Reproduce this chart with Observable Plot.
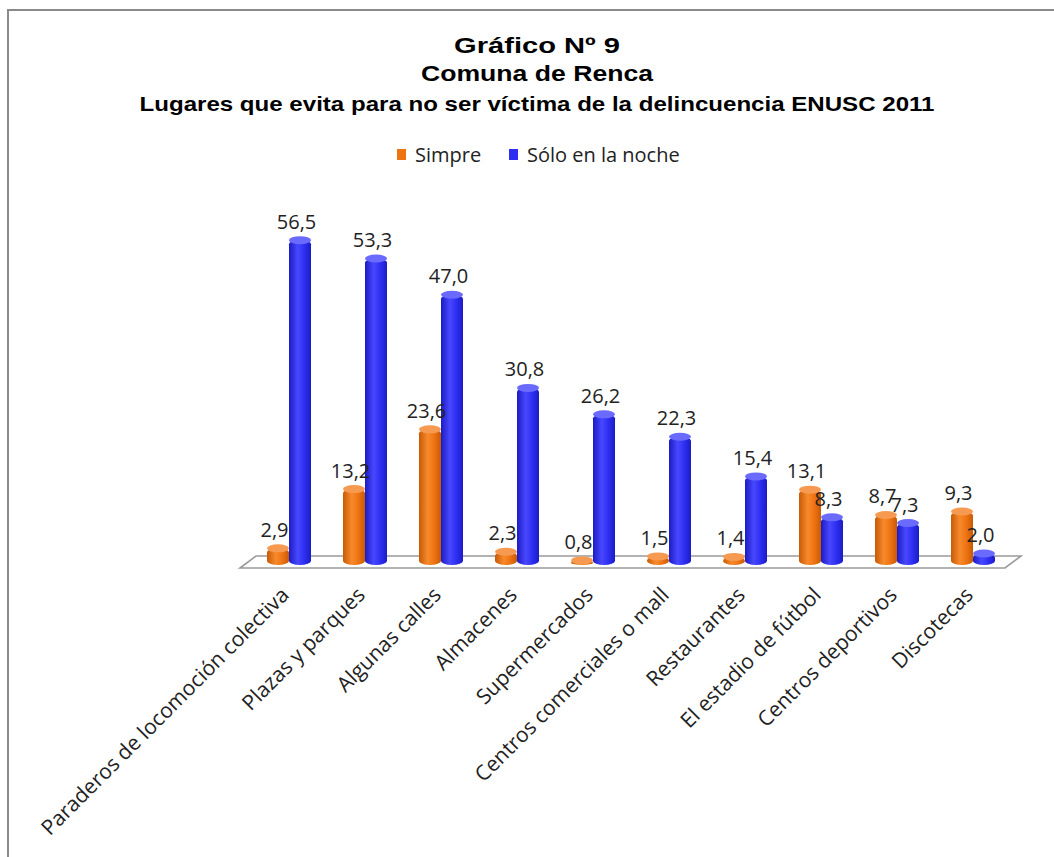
<!DOCTYPE html>
<html>
<head>
<meta charset="utf-8">
<script src="https://cdn.jsdelivr.net/npm/d3@7"></script>
<script src="https://cdn.jsdelivr.net/npm/@observablehq/plot@0.6"></script>
<style>
  html, body { margin: 0; padding: 0; background: #fff; }
  #page { position: relative; width: 1054px; height: 857px; overflow: hidden; background: #fff; }
  #frame { position: absolute; left: 7px; top: 9px; width: 1100px; height: 900px; border-left: 2px solid #8a8a8a; border-top: 2px solid #8a8a8a; box-sizing: border-box; }
  .t { position: absolute; left: 537px; font-family: "Liberation Sans", Arial, sans-serif; font-weight: bold; color: #000; white-space: nowrap; line-height: 1; }
  #legend { position: absolute; top: 141px; left: 0; width: 1054px; font-family: "Open Sans", sans-serif; font-size: 20px; color: #222; }
  .li { position: absolute; top: 0; display: flex; align-items: center; }
  .sw { display: inline-block; width: 9px; height: 11px; margin-right: 9px; }
  #chart { position: absolute; left: 0; top: 180px; }
</style>
</head>
<body>
<div id="page">
  <div id="frame"></div>
  <div class="t" id="t1" data-w="166" style="top:35px;font-size:22px;">Gráfico Nº 9</div>
  <div class="t" id="t2" data-w="232" style="top:63px;font-size:22px;">Comuna de Renca</div>
  <div class="t" id="t3" data-w="795" style="top:93px;font-size:21px;">Lugares que evita para no ser víctima de la delincuencia ENUSC 2011</div>
  <div id="legend"></div>
  <div id="chart"></div>
</div>
<script>
const categories = [
  "Paraderos de locomoción colectiva",
  "Plazas y parques",
  "Algunas calles",
  "Almacenes",
  "Supermercados",
  "Centros comerciales o mall",
  "Restaurantes",
  "El estadio de fútbol",
  "Centros deportivos",
  "Discotecas"
];
const seriesNames = ["Simpre", "Sólo en la noche"];
const simpre = [2.9, 13.2, 23.6, 2.3, 0.8, 1.5, 1.4, 13.1, 8.7, 9.3];
const soloNoche = [56.5, 53.3, 47.0, 30.8, 26.2, 22.3, 15.4, 8.3, 7.3, 2.0];
const seriesColors = ["#ED7410", "#2E2EF2"];

const dataO = categories.map((c, i) => ({cat: c, value: simpre[i]}));
const dataB = categories.map((c, i) => ({cat: c, value: soloNoche[i]}));
const fmt = v => v.toFixed(1).replace(".", ",");

// stretch title lines to the reference's widths
document.querySelectorAll(".t").forEach(el => {
  const w = el.getBoundingClientRect().width;
  const target = +el.dataset.w;
  el.style.transformOrigin = "0 0";
  el.style.transform = `translateX(${-target / 2}px) scaleX(${target / w})`;
});

// legend
const legend = document.getElementById("legend");
const legPos = [397, 509];
seriesNames.forEach((s, i) => {
  const d = document.createElement("div");
  d.className = "li";
  d.style.left = legPos[i] + "px";
  d.innerHTML = `<span class="sw" style="background:${seriesColors[i]}"></span><span>${s}</span>`;
  legend.appendChild(d);
});

const W = 1054, H = 677;

// floor drawn from the scales
function floor(index, scales, values, dims) {
  const [x0, x1] = scales.x.range();
  const y0 = scales.y(0);
  const g = d3.create("svg:g");
  const pts = [
    [x0 - 9, y0 + 3], [x1 - 7, y0 + 3],
    [x1 + 9, y0 - 9], [x0 + 7, y0 - 9]
  ];
  g.append("polygon")
    .attr("points", pts.map(p => p.join(",")).join(" "))
    .attr("fill", "#fff")
    .attr("stroke", "#9a9a9a")
    .attr("stroke-width", 1.6);
  return g.node();
}

const chart = Plot.plot({
  width: W,
  height: H,
  marginLeft: 249,
  marginRight: 42,
  marginTop: 40,
  marginBottom: 292,
  style: {background: "transparent", overflow: "visible"},
  x: {domain: categories, padding: 0, label: null},
  y: {domain: [0, 60], axis: null},
  marks: [
    floor,
    Plot.barY(dataO, {x: "cat", y: "value", fill: "url(#gradO)", dx: -11, insetLeft: 27, insetRight: 27, rx: 11, ry: 4}),
    Plot.barY(dataO, {x: "cat", y1: "value", y2: "value", fill: "#F59A50", dx: -11, insetLeft: 27, insetRight: 27, insetTop: -4, insetBottom: -4, rx: 11, ry: 4}),
    Plot.barY(dataB, {x: "cat", y: "value", fill: "url(#gradB)", dx: 11, insetLeft: 27, insetRight: 27, rx: 11, ry: 4}),
    Plot.barY(dataB, {x: "cat", y1: "value", y2: "value", fill: "#6A6AFF", dx: 11, insetLeft: 27, insetRight: 27, insetTop: -4, insetBottom: -4, rx: 11, ry: 4}),
    Plot.text(dataO, {x: "cat", y: "value", text: d => fmt(d.value), dx: -15, dy: -12, lineAnchor: "bottom", fontSize: 20, fill: "#222"}),
    Plot.text(dataB, {x: "cat", y: "value", text: d => fmt(d.value), dx: 7, dy: -12, lineAnchor: "bottom", fontSize: 20, fill: "#222"}),
    Plot.axisX({tickSize: 0, tickPadding: 26, tickRotate: -45, fontSize: 21, label: null, fill: "#222", dx: -4})
  ]
});
chart.style.fontFamily = "'Open Sans', sans-serif";

// gradients for cylinder shading
const svg = d3.select(chart);
const defs = svg.insert("defs", ":first-child");
function grad(id, dark, mid, light) {
  const g = defs.append("linearGradient").attr("id", id).attr("x1", "0").attr("x2", "1").attr("y1", "0").attr("y2", "0");
  g.append("stop").attr("offset", "0%").attr("stop-color", dark);
  g.append("stop").attr("offset", "40%").attr("stop-color", light);
  g.append("stop").attr("offset", "70%").attr("stop-color", mid);
  g.append("stop").attr("offset", "100%").attr("stop-color", dark);
}
grad("gradO", "#C75A05", "#EE7312", "#F88A2C");
grad("gradB", "#1C1CC4", "#2E2EF2", "#4848FF");

document.getElementById("chart").appendChild(chart);
</script>
</body>
</html>
